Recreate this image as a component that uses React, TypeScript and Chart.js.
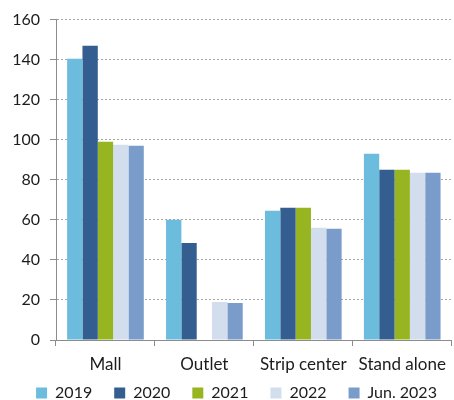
import { useEffect, useRef } from "react";
import { Chart, registerables } from "chart.js";

Chart.register(...registerables);

// Store counts by format
const categories = ["Mall", "Outlet", "Strip center", "Stand alone"];
const seriesLabels = ["2019", "2020", "2021", "2022", "Jun. 2023"];
const values2019 = [140.5, 60, 64.5, 93];
const values2020 = [147, 48.5, 66, 85];
const values2021 = [99, null, 66, 85];
const values2022 = [97.5, 19, 56, 83.5];
const valuesJun2023 = [97, 18.5, 55.5, 83.5];
const yMin = 0;
const yMax = 160;
const yStep = 20;

const seriesValues = [values2019, values2020, values2021, values2022, valuesJun2023];
const seriesColors = ["#6BBCDD", "#355E90", "#96B521", "#D2DEEE", "#799CCB"];

const FONT = "Lato, 'DejaVu Sans', sans-serif";
const TEXT = "#1c1c1c";
const CANVAS_W = 454;
const CANVAS_H = 421;

// Nudge the legend row: slightly right and up, closer to the axis labels.
const legendNudge = {
  id: "legendNudge",
  afterLayout(chart: any) {
    const lg = chart.legend;
    if (!lg) return;
    lg.left += 10;
    lg.right += 10;
    lg.top -= 10;
    lg.bottom -= 10;
  },
};

export default function App() {
  const canvasRef = useRef<HTMLCanvasElement | null>(null);

  useEffect(() => {
    const canvas = canvasRef.current;
    if (!canvas) return;
    const chart = new Chart(canvas, {
      type: "bar",
      data: {
        labels: categories,
        datasets: seriesLabels.map((label, i) => ({
          label,
          data: seriesValues[i],
          backgroundColor: seriesColors[i],
          borderWidth: 0,
          categoryPercentage: 0.775,
          barPercentage: 1,
        })),
      },
      options: {
        responsive: false,
        animation: false,
        devicePixelRatio: 1,
        layout: { padding: { top: 10, right: 1, left: 0, bottom: 0 } },
        plugins: {
          tooltip: { enabled: false },
          legend: {
            position: "bottom",
            labels: {
              boxWidth: 11,
              boxHeight: 11,
              padding: 22,
              color: TEXT,
              font: { family: FONT, size: 16 },
            },
          },
        },
        scales: {
          x: {
            afterFit: (scale: any) => {
              scale.height = 33;
            },
            grid: {
              offset: true,
              drawOnChartArea: false,
              drawTicks: true,
              tickLength: 6,
              tickColor: "#8c8c8c",
              color: "#8c8c8c",
            },
            border: { color: "#8c8c8c", width: 1 },
            ticks: {
              color: TEXT,
              font: { family: FONT, size: 17 },
              padding: 8,
              maxRotation: 0,
              autoSkip: false,
            },
          },
          y: {
            min: yMin,
            max: yMax,
            afterFit: (scale: any) => {
              scale.width = 56;
            },
            grid: {
              color: "#a6a6a6",
              drawTicks: true,
              tickLength: 6,
              tickColor: "#8c8c8c",
              tickBorderDash: [],
            },
            border: { color: "#8c8c8c", width: 1, dash: [2, 2] },
            ticks: {
              stepSize: yStep,
              color: TEXT,
              font: { family: FONT, size: 16 },
              padding: 10,
            },
          },
        },
      },
      plugins: [legendNudge],
    });
    return () => chart.destroy();
  }, []);

  return (
    <div style={{ position: "absolute", left: 0, top: 0, width: 454, height: 400, overflow: "hidden" }}>
      <canvas ref={canvasRef} width={CANVAS_W} height={CANVAS_H} style={{ display: "block" }} />
    </div>
  );
}
